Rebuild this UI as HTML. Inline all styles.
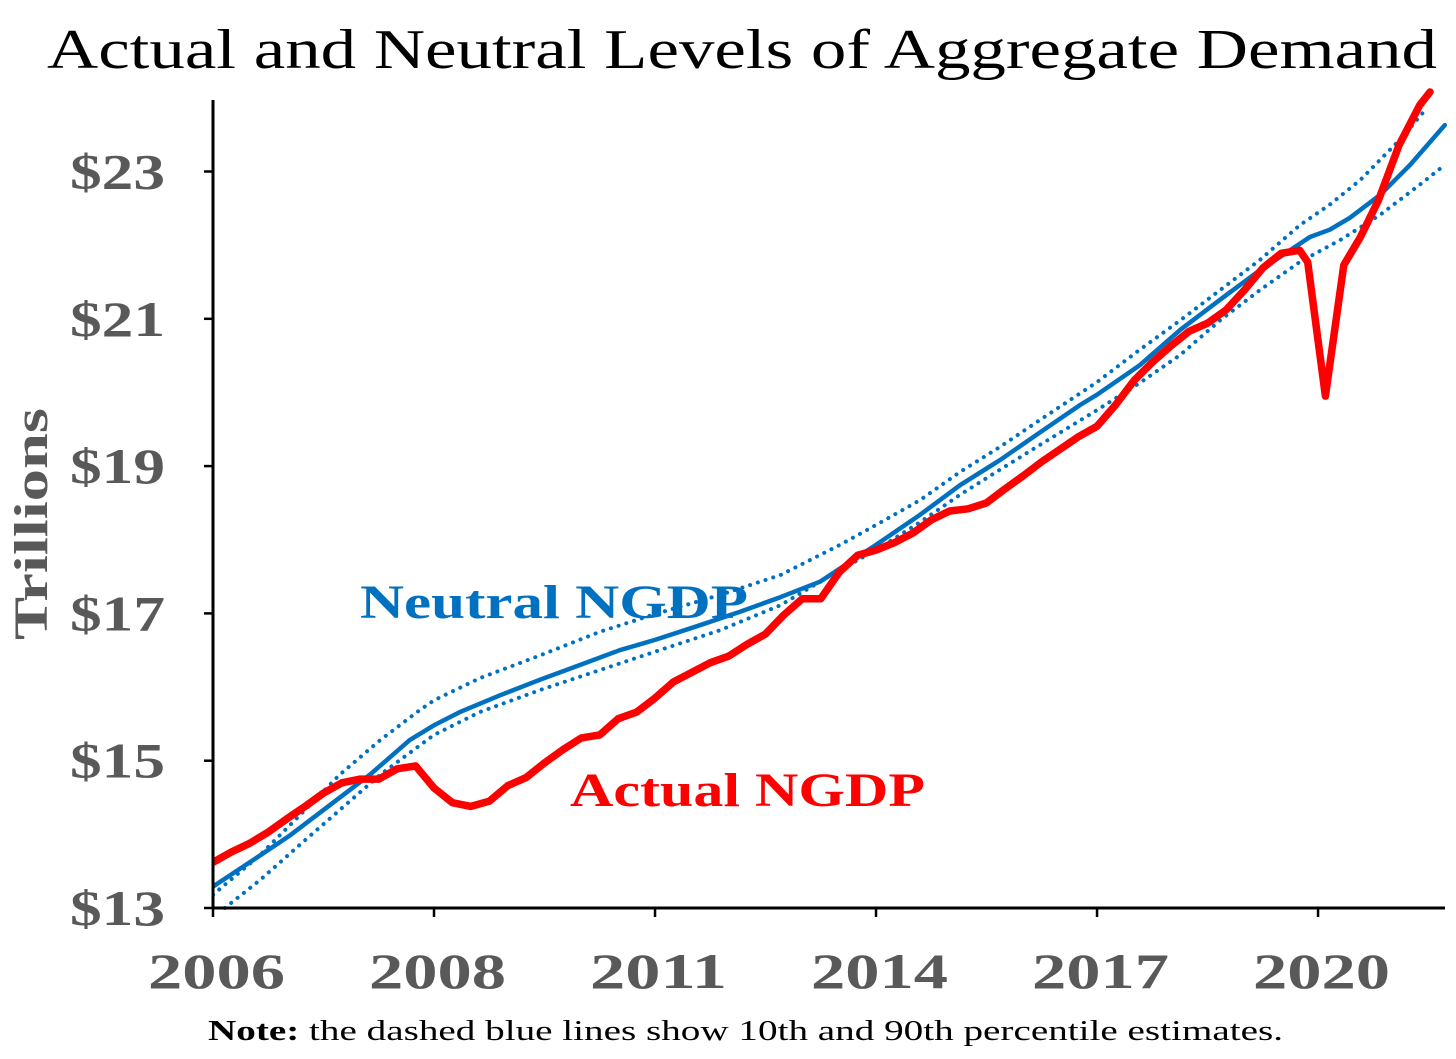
<!DOCTYPE html>
<html><head><meta charset="utf-8"><style>
html,body{margin:0;padding:0;background:#fff;}
svg{display:block;font-family:"Liberation Serif",serif;}
</style></head><body>
<svg id="chart" width="1456" height="1059" viewBox="0 0 1456 1059" xmlns="http://www.w3.org/2000/svg">
<text x="47" y="68" textLength="1390" lengthAdjust="spacingAndGlyphs" font-size="56" fill="#000">Actual and Neutral Levels of Aggregate Demand</text>
<defs><clipPath id="plotclip"><rect x="213" y="88" width="1240" height="822"/></clipPath></defs>
<g id="series" clip-path="url(#plotclip)"></g>
<g id="axes"></g>
<text transform="translate(47,640) rotate(-90)" textLength="232" lengthAdjust="spacingAndGlyphs" font-size="48" font-weight="bold" fill="#595959">Trillions</text>
<text x="360" y="618" textLength="388" lengthAdjust="spacingAndGlyphs" font-size="48" font-weight="bold" fill="#0070c0">Neutral NGDP</text>
<text x="570" y="806" textLength="355" lengthAdjust="spacingAndGlyphs" font-size="48" font-weight="bold" fill="#ff0000">Actual NGDP</text>
<text x="208" y="1040" textLength="1075" lengthAdjust="spacingAndGlyphs" font-size="28" fill="#000"><tspan font-weight="bold">Note:</tspan> the dashed blue lines show 10th and 90th percentile estimates.</text>
</svg>
<script>
const yTicks = [13, 15, 17, 19, 21, 23];
const xTickPos = [0, 3, 6, 9, 12, 15];
const xTickLabels = ["2006", "2008", "2011", "2014", "2017", "2020"];
const actualValues = [13.62,13.76,13.88,14.03,14.21,14.38,14.56,14.70,14.75,14.75,14.89,14.93,14.63,14.43,14.38,14.45,14.66,14.77,14.97,15.15,15.31,15.35,15.57,15.66,15.85,16.07,16.20,16.33,16.42,16.58,16.72,16.98,17.20,17.20,17.56,17.79,17.86,17.96,18.09,18.27,18.39,18.42,18.50,18.69,18.87,19.06,19.23,19.40,19.54,19.83,20.16,20.41,20.63,20.83,20.94,21.12,21.39,21.69,21.89,21.93];
const actualTailT = [14.86, 15.10, 15.35, 15.57, 15.82, 16.10, 16.38, 16.52];
const actualTailV = [21.77, 19.95, 21.73, 22.10, 22.61, 23.36, 23.90, 24.08];
const neutralT = [0,0.5,1.05,1.59,2.13,2.67,3.0,3.35,3.9,4.44,4.98,5.52,6.0,6.61,7.15,7.7,8.24,8.65,9.0,9.6,10.14,10.68,11.23,11.77,12.0,12.58,13.13,13.67,14.21,14.62,14.89,15.16,15.43,15.84,16.25,16.72];
const neutralV = [13.29,13.62,13.99,14.40,14.81,15.28,15.48,15.66,15.89,16.10,16.30,16.50,16.64,16.84,17.02,17.22,17.43,17.70,17.93,18.34,18.74,19.08,19.46,19.83,19.97,20.37,20.85,21.26,21.66,21.93,22.11,22.21,22.37,22.68,23.09,23.63];
const upperT = [0,0.64,1.18,1.72,2.27,2.81,3.0,3.62,4.44,5.25,6.0,6.88,7.7,8.51,9.0,9.6,10.14,10.68,11.23,12.0,12.58,13.13,13.67,14.21,14.75,15.16,15.57,16.11,16.45];
const upperV = [13.18,13.72,14.26,14.81,15.28,15.69,15.82,16.12,16.43,16.75,16.99,17.25,17.52,17.93,18.20,18.54,18.92,19.26,19.63,20.14,20.58,20.98,21.39,21.80,22.27,22.55,22.88,23.43,23.83];
const lowerT = [0.16,0.64,1.18,1.72,2.27,3.0,3.62,4.44,5.25,6.0,6.88,7.7,8.51,9.0,9.6,10.14,10.68,11.23,12.0,12.58,13.13,13.67,14.21,14.75,15.3,15.84,16.38,16.72];
const lowerV = [13.0,13.38,13.86,14.33,14.81,15.35,15.66,15.96,16.23,16.48,16.77,17.11,17.59,17.86,18.24,18.61,18.95,19.29,19.76,20.13,20.51,20.98,21.39,21.77,22.07,22.41,22.82,23.09];

const X0 = 213, PXPERT = 73.67, Y0 = 908, PXPERV = 73.65;
function xs(t){ return X0 + t * PXPERT; }
function ys(v){ return Y0 - (v - 13) * PXPERV; }
const NS = "http://www.w3.org/2000/svg";
const series = document.getElementById('series');
const axes = document.getElementById('axes');

function addLine(ts, vs, color, width, dash, name){
  const p = document.createElementNS(NS, 'polyline');
  p.setAttribute('points', ts.map((t,i)=>xs(t).toFixed(1)+','+ys(vs[i]).toFixed(1)).join(' '));
  p.setAttribute('fill','none');
  p.setAttribute('stroke',color);
  p.setAttribute('stroke-width',width);
  p.setAttribute('stroke-linejoin','round');
  p.setAttribute('stroke-linecap','round');
  if (dash) p.setAttribute('stroke-dasharray',dash);
  
  
  series.appendChild(p);
}
addLine(upperT, upperV, '#0070c0', 4, '0.1 8', 'upper-percentile-line');
addLine(lowerT, lowerV, '#0070c0', 4, '0.1 8', 'lower-percentile-line');
addLine(neutralT, neutralV, '#0070c0', 4.5, null, 'neutral-ngdp-line');
const actT = actualValues.map((v,i)=>i*0.25).concat(actualTailT);
const actV = actualValues.concat(actualTailV);
addLine(actT, actV, '#ff0000', 7.5, null, 'actual-ngdp-line');

function mk(tag, attrs){ const e=document.createElementNS(NS,tag); for(const k in attrs) e.setAttribute(k,attrs[k]); axes.appendChild(e); return e; }
const ya = mk('line',{x1:213,y1:100,x2:213,y2:909,stroke:'#000','stroke-width':3});


const xa = mk('line',{x1:212,y1:908,x2:1445,y2:908,stroke:'#000','stroke-width':3});


yTicks.forEach(v=>{
  const tk = mk('line',{x1:204,y1:ys(v),x2:213,y2:ys(v),stroke:'#000','stroke-width':2.5});
  
  
  const lb = mk('text',{x:70,y:ys(v)+17,textLength:95,lengthAdjust:'spacingAndGlyphs','font-size':50,'font-weight':'bold',fill:'#595959'});
  lb.textContent = '$' + v;
  
  
});
xTickPos.forEach((t,i)=>{
  const tk = mk('line',{x1:xs(t),y1:908,x2:xs(t),y2:917,stroke:'#000','stroke-width':2.5});
  
  
  const lb = mk('text',{x:xs(t)-65,y:988,textLength:137,lengthAdjust:'spacingAndGlyphs','font-size':50,'font-weight':'bold',fill:'#595959'});
  lb.textContent = xTickLabels[i];
  
  
});
</script>
</body></html>
